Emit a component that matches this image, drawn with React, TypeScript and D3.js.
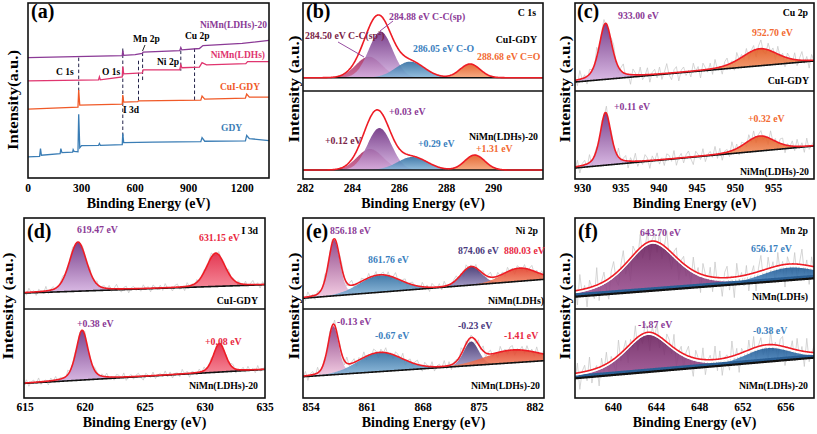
import React from "react";
import * as d3 from "d3";

const FONT = "'Liberation Serif','Times New Roman',serif";
const W = 817;
const H = 434;

// ---------------- (a) survey spectra ----------------
const surveyTicks = [0, 300, 600, 900, 1200];
const gdyEnergy = [0, 65, 70, 75, 180, 184, 190, 250, 253, 258, 280, 284, 290, 300, 395, 400, 405, 528, 531, 536, 700, 968, 975, 990, 1218, 1225, 1240, 1350];
const gdyCounts = [12.1, 12.4, 16.8, 13.0, 13.9, 16.8, 14.5, 14.8, 16.2, 15.2, 15.0, 36.4, 17.3, 18.5, 18.6, 19.7, 18.7, 19.1, 25.4, 20.2, 20.5, 20.8, 23.1, 21.0, 21.2, 24.3, 22.5, 21.4];
const cuiEnergy = [0, 280, 284, 290, 528, 531, 536, 615, 620, 625, 968, 975, 990, 1218, 1225, 1240, 1350];
const cuiCounts = [39.3, 40.5, 50.3, 41.6, 42.2, 47.4, 43.4, 43.6, 44.2, 44.1, 44.5, 46.8, 45.1, 45.7, 48.0, 46.2, 46.2];
const ldhEnergy = [0, 395, 400, 405, 528, 531, 536, 640, 645, 850, 856, 862, 960, 975, 1000, 1220, 1230, 1350];
const ldhCounts = [55.5, 56.1, 57.8, 56.1, 57.8, 63.6, 59.5, 60.1, 61.8, 61.8, 64.7, 63.0, 63.4, 65.9, 64.7, 65.3, 66.5, 66.5];
const ldh20Energy = [0, 528, 531, 536, 600, 640, 645, 850, 856, 862, 960, 980, 1200, 1350];
const ldh20Counts = [68.8, 69.9, 72.8, 70.1, 70.5, 71.2, 71.9, 72.8, 74.6, 73.2, 74.0, 75.7, 76.9, 78.6];
const markerEnergy = [284, 531, 619, 642, 856, 933];
const markerTop = [68.8, 74.0, 67.0, 71.7, 72.8, 74.0];
const markerBottom = [49.7, 23.7, 43.4, 55.5, 61.3, 43.9];

// ---------------- (b) C 1s ----------------
const c1sTicks = [282, 284, 286, 288, 290];
const c1sTopBase = [15.1, 15.1];
const c1sTopCenter = [284.7, 285.2, 286.45, 289.0];
const c1sTopHeight = [23.9, 52.3, 18.2, 15.6];
const c1sTopFwhm = [1.3, 1.2, 1.45, 1.0];
const c1sBotBase = [10.2, 10.2];
const c1sBotCenter = [284.75, 285.15, 286.55, 289.2];
const c1sBotHeight = [23.9, 47.7, 14.8, 17.0];
const c1sBotFwhm = [1.3, 1.2, 1.5, 1.0];
const c1sEta = [0, 0, 0, 0];

// ---------------- (c) Cu 2p ----------------
const cuTicks = [930, 935, 940, 945, 950, 955];
const cuTopBase = [10.2, 34.1];
const cuTopCenter = [933.0, 953.2];
const cuTopHeight = [63.6, 19.3];
const cuTopFwhm = [2.0, 5.5];
const cuBotBase = [12.5, 37.5];
const cuBotCenter = [933.0, 953.2];
const cuBotHeight = [59.8, 17.0];
const cuBotFwhm = [1.7, 4.5];
const cuEta = [0.5, 0.3];

// ---------------- (d) I 3d ----------------
const iTicks = [615, 620, 625, 630, 635];
const iTopBase = [17.5, 26.7];
const iTopCenter = [619.4, 630.9];
const iTopHeight = [54, 36.5];
const iTopFwhm = [1.7, 1.8];
const iTopEta = [0.3, 0.2];
const iBotBase = [16.4, 32.1];
const iBotCenter = [619.75, 631.2];
const iBotHeight = [56, 32];
const iBotFwhm = [1.2, 1.2];
const iBotEta = [0.45, 0.3];

// ---------------- (e) Ni 2p ----------------
const niTicks = [854, 861, 868, 875, 882];
const niTopBase = [11.8, 32.6];
const niTopCenter = [856.9, 862.6, 874.0, 880.0];
const niTopHeight = [61.2, 18.7, 20.1, 14.3];
const niTopFwhm = [1.7, 6, 3, 5];
const niBotBase = [23.9, 41.9];
const niBotCenter = [856.8, 862.6, 874.0, 879.2];
const niBotHeight = [54.5, 21.3, 27, 14.3];
const niBotFwhm = [1.6, 6.5, 2.2, 8];
const niEta = [0.3, 0, 0.1, 0];

// ---------------- (f) Mn 2p ----------------
const mnTicks = [640, 644, 648, 652, 656];
const mnTopBase = [13.5, 33.7];
const mnTopCenter = [643.6, 656.3];
const mnTopHeight = [51.6, 13.8];
const mnTopFwhm = [5.5, 6];
const mnBotBase = [22.1, 45.3];
const mnBotCenter = [643.2, 654.3];
const mnBotHeight = [41.6, 15.2];
const mnBotFwhm = [5, 5];
const mnEta = [0.5, 0.2];

// raw-signal residuals read around the fitted envelopes (relative units)
const residualTop = [0.4, -0.6, 0.9, -0.1, 0.3, -0.8, 0.5, 0.1, -0.5, 1.0, -0.7, 0.2, 0.6, -0.3, -0.9, 0.4, 0.8, -0.2, -0.6, 0.3, 0.9, -0.4, 0.0, -1.0, 0.6, 0.2, -0.3, 0.8, -0.5, -0.1, 0.7, -0.8, 0.2, 0.5, -0.4, 0.7, -0.6, 0.1, 1.0, -0.2, -0.7, 0.3, 0.6, -0.9, 0.2, 0.5, -0.4, 0.1, -0.6, 0.8, -0.1, 0.4, -0.8, 0.7, 0.2, -0.3, 0.6, -0.6, 0.9, -0.2, 0.1, -0.8, 0.4, 0.7, -0.5, 0.2, -0.9, 0.8, -0.1, 0.3, -0.4, 0.6, -0.7, 0.1, 0.5, -0.8, 0.3, 0.9, -0.3, -0.5, 0.7, -0.1, 0.4, -0.7, 0.8, -0.2, 0.3, -1.0, 0.5, 0.1, -0.4, 0.7, -0.6, 0.2, 0.9, -0.3, 0.4, -0.8, 0.6, -0.1];
const residualBot = [-0.3, 0.7, -0.8, 0.2, 0.5, -0.4, 0.9, -0.6, 0.1, 0.3, -0.9, 0.6, -0.2, 0.8, -0.5, 0.4, -0.1, -0.7, 1.0, -0.3, 0.2, 0.6, -0.8, 0.4, -0.2, 0.9, -0.6, 0.1, -0.4, 0.7, 0.3, -0.9, 0.5, -0.1, 0.8, -0.5, 0.2, -0.7, 0.6, 0.4, -0.3, 0.9, -0.8, 0.1, 0.5, -0.6, 0.3, 0.7, -0.2, -0.9, 0.6, 0.2, -0.4, 0.8, -0.7, 0.1, 0.4, -0.3, 0.9, -0.5, 0.6, -0.8, 0.2, 0.3, -0.6, 1.0, -0.2, 0.5, -0.9, 0.4, 0.1, -0.5, 0.7, -0.3, 0.8, -0.7, 0.2, 0.6, -0.4, 0.1, -0.8, 0.9, -0.2, 0.3, -0.6, 0.5, 0.7, -0.9, 0.2, -0.1, 0.6, -0.5, 0.8, -0.3, 0.4, -0.7, 0.9, -0.4, 0.1, 0.5];

// ---------------- styles ----------------
const GRAD: Record<string, [string, string]> = {
  purple: ["#6A2A7E", "#D6B2E2"],
  sp2: ["#A6265A", "#C45C8E"],
  blue: ["#2C6A9E", "#86B6DA"],
  orange: ["#E2561C", "#F5A072"],
  red: ["#E01E3C", "#F47A8C"],
  pink: ["#86357E", "#F3C8E0"],
  navy: ["#3A2C6A", "#A096C6"],
  redorange: ["#E23C26", "#F28A66"],
  fpurple: ["#6A1E5C", "#9A4E90"],
  fblue: ["#1C5894", "#5E9AD2"],
};
const C = {
  purple: "#8B3A96",
  blue: "#3A80BE",
  orange: "#F26A32",
  red: "#E8283F",
  navy: "#4A3A7E",
  dark: "#7A2448",
  pinkred: "#E0356F",
  cuiorange: "#F05A28",
  gdy: "#3A7DB5",
  env: "#EE1C25",
  noise: "#C4C4C4",
};

type Spec = {
  base: number[];
  c: number[];
  h: number[];
  w: number[];
  eta: number[];
  fills: string[];
  noise?: number[];
  amp?: number;
  gap?: boolean;
};

function pv(e: number, c: number, h: number, w: number, eta: number) {
  const d = (e - c) / w;
  const g = Math.exp(-4 * Math.LN2 * d * d);
  const l = 1 / (1 + 4 * d * d);
  return h * (eta * l + (1 - eta) * g);
}

function Sub({ id, x, y, spec, clipY }: { id: string; x: any; y: any; spec: Spec; clipY: [number, number] }) {
  const [d0, d1] = x.domain();
  const es = d3.range(401).map((i) => d0 + ((d1 - d0) * i) / 400);
  const baseAt = (e: number) => spec.base[0] + ((spec.base[1] - spec.base[0]) * (e - d0)) / (d1 - d0);
  const comp = (k: number, e: number) => pv(e, spec.c[k], spec.h[k], spec.w[k], spec.eta[k]);
  const total = (e: number) => spec.c.reduce((s, _, k) => s + comp(k, e), 0);
  const [x0, x1] = x.range();
  const envLine = d3
    .line<number>()
    .x((e) => x(e))
    .y((e) => y(baseAt(e) + total(e)))
    .curve(d3.curveMonotoneX);
  const baseLine = d3
    .line<number>()
    .x((e) => x(e))
    .y((e) => y(baseAt(e)));
  let noisePath: string | null = null;
  if (spec.noise) {
    const n = spec.noise.length;
    const pts = spec.noise.map((v, i) => {
      const e = d0 + ((d1 - d0) * i) / (n - 1);
      return [x(e), y(baseAt(e) + total(e) + (spec.amp || 0) * v)] as [number, number];
    });
    noisePath = d3.line()(pts);
  }
  return (
    <g>
      <clipPath id={"clip-" + id}>
        <rect x={x0} y={clipY[0]} width={x1 - x0} height={clipY[1] - clipY[0]} />
      </clipPath>
      <g clipPath={`url(#clip-${id})`}>
        {noisePath && <path d={noisePath} fill="none" stroke={C.noise} strokeWidth={0.7} />}
        {spec.c.map((_, k) => {
          const area = d3
            .area<number>()
            .x((e) => x(e))
            .y0((e) => y(baseAt(e)))
            .y1((e) => y(baseAt(e) + comp(k, e)))
            .curve(d3.curveMonotoneX);
          const pts = es.filter((e) => comp(k, e) > 0.15);
          return <path key={k} d={area(pts) || ""} fill={`url(#g-${spec.fills[k]})`} opacity={0.88} />;
        })}
        {spec.gap && (
          <path d={baseLine(es) || ""} fill="none" stroke="#2A5F95" strokeWidth={3} transform="translate(0,-2)" />
        )}
        <path d={baseLine(es) || ""} fill="none" stroke="#111" strokeWidth={spec.gap ? 2.2 : 1.6} />
        {spec.gap && (
          <path d={envLine(es) || ""} fill="none" stroke="#fff" strokeWidth={2.2} transform="translate(0,-1.2)" />
        )}
        <path
          d={envLine(es) || ""}
          fill="none"
          stroke={C.env}
          strokeWidth={1.6}
          transform={spec.gap ? "translate(0,-2.6)" : undefined}
        />
      </g>
    </g>
  );
}

type Box = { x0: number; x1: number; y0: number; yd: number; y1: number };

function YTitle({ x, y, text, len }: { x: number; y: number; text: string; len: number }) {
  return (
    <text
      transform={`translate(${x},${y}) rotate(-90)`}
      textAnchor="middle"
      fontSize={14.5}
      textLength={len}
      lengthAdjust="spacingAndGlyphs"
    >
      {text}
    </text>
  );
}

function XAxis({ x, ticks, base, box }: { x: any; ticks: number[]; base: number; box: Box }) {
  return (
    <g>
      {ticks.map((t) => (
        <text key={t} x={x(t)} y={base} textAnchor="middle" fontSize={11.5}>
          {t}
        </text>
      ))}
      <text x={(box.x0 + box.x1) / 2} y={base + 15.5} textAnchor="middle" fontSize={14}>
        Binding Energy (eV)
      </text>
    </g>
  );
}

function XpsPanel({
  id,
  box,
  domain,
  ticks,
  top,
  bottom,
  tickBase,
  yTitleX,
  children,
}: {
  id: string;
  box: Box;
  domain: [number, number];
  ticks: number[];
  top: Spec;
  bottom: Spec;
  tickBase: number;
  yTitleX: number;
  children?: React.ReactNode;
}) {
  const x = d3.scaleLinear().domain(domain).range([box.x0, box.x1]);
  const yTop = d3.scaleLinear().domain([0, 100]).range([box.yd, box.y0]);
  const yBot = d3.scaleLinear().domain([0, 100]).range([box.y1, box.yd]);
  return (
    <g>
      <Sub id={id + "t"} x={x} y={yTop} spec={top} clipY={[box.y0, box.yd]} />
      <Sub id={id + "b"} x={x} y={yBot} spec={bottom} clipY={[box.yd, box.y1]} />
      <rect x={box.x0} y={box.y0} width={box.x1 - box.x0} height={box.y1 - box.y0} fill="none" stroke="#111" strokeWidth={1.6} />
      <line x1={box.x0} x2={box.x1} y1={box.yd} y2={box.yd} stroke="#111" strokeWidth={1.6} />
      <XAxis x={x} ticks={ticks} base={tickBase} box={box} />
      <YTitle x={yTitleX} y={(box.y0 + box.y1) / 2 - 2} text="Intensity (a.u.)" len={107} />
      {children}
    </g>
  );
}

function SurveyPanel() {
  const box = { x0: 28, x1: 269, y0: 3, y1: 178 };
  const x = d3.scaleLinear().domain([0, 1350]).range([box.x0, box.x1]);
  const y = d3.scaleLinear().domain([0, 100]).range([box.y1, box.y0]);
  const series: [number[], number[], string][] = [
    [gdyEnergy, gdyCounts, C.gdy],
    [cuiEnergy, cuiCounts, C.cuiorange],
    [ldhEnergy, ldhCounts, C.pinkred],
    [ldh20Energy, ldh20Counts, C.purple],
  ];
  const line = d3.line<[number, number]>().x((d) => x(d[0])).y((d) => y(d[1]));
  return (
    <g>
      {markerEnergy.map((e, i) => (
        <line key={i} x1={x(e)} x2={x(e)} y1={y(markerTop[i])} y2={y(markerBottom[i])} stroke="#23234A" strokeWidth={1} strokeDasharray="3.5,2.5" />
      ))}
      {series.map(([es, cs, col], i) => (
        <path key={i} d={line(es.map((e, k) => [e, cs[k]] as [number, number])) || ""} fill="none" stroke={col} strokeWidth={1.3} />
      ))}
      <line x1={145} y1={45} x2={142.5} y2={51} stroke="#111" strokeWidth={0.9} />
      <rect x={box.x0} y={box.y0} width={box.x1 - box.x0} height={box.y1 - box.y0} fill="none" stroke="#111" strokeWidth={1.6} />
      {surveyTicks.map((t) => (
        <text key={t} x={x(t)} y={192} textAnchor="middle" fontSize={11.5}>
          {t}
        </text>
      ))}
      <text x={(box.x0 + box.x1) / 2} y={207.5} textAnchor="middle" fontSize={14}>
        Binding Energy (eV)
      </text>
      <YTitle x={18} y={100} text="Intensity(a.u.)" len={100} />
      <text x={31} y={18} fontSize={20}>(a)</text>
      <g fontSize={9.5}>
        <text x={267} y={28} textAnchor="end" fill={C.purple}>NiMn(LDHs)-20</text>
        <text x={265} y={58} textAnchor="end" fill={C.pinkred}>NiMn(LDHs)</text>
        <text x={260} y={90} textAnchor="end" fill={C.cuiorange}>CuI-GDY</text>
        <text x={221} y={131} fill={C.gdy}>GDY</text>
        <text x={56} y={75}>C 1s</text>
        <text x={102} y={75}>O 1s</text>
        <text x={133} y={42}>Mn 2p</text>
        <text x={157} y={65}>Ni 2p</text>
        <text x={185} y={39}>Cu 2p</text>
        <text x={123} y={113}>I 3d</text>
      </g>
    </g>
  );
}

export default function App() {
  const topRow = { y0: 3, yd: 91, y1: 179 };
  const botRow = { y0: 218, yd: 309, y1: 398 };
  const sp = (base: number[], c: number[], h: number[], w: number[], eta: number[], fills: string[], noise?: number[], amp?: number, gap?: boolean): Spec => ({
    base, c, h, w, eta, fills, noise, amp, gap,
  });
  return (
    <svg
      width={W}
      height={H}
      viewBox={`0 0 ${W} ${H}`}
      style={{ position: "absolute", left: 0, top: 0, background: "#fff" }}
      fontFamily={FONT}
      fontWeight="bold"
    >
      <defs>
        {Object.entries(GRAD).map(([k, [a, b]]) => (
          <linearGradient key={k} id={"g-" + k} x1="0" y1="0" x2="0" y2="1">
            <stop offset="0" stopColor={a} />
            <stop offset="1" stopColor={b} />
          </linearGradient>
        ))}
      </defs>
      <rect width={W} height={H} fill="#fff" />
      <SurveyPanel />

      {/* (b) C 1s */}
      <XpsPanel
        id="b"
        box={{ x0: 303, x1: 543, ...topRow }}
        domain={[281.9, 292.1]}
        ticks={c1sTicks}
        top={sp(c1sTopBase, c1sTopCenter, c1sTopHeight, c1sTopFwhm, c1sEta, ["sp2", "purple", "blue", "orange"])}
        bottom={sp(c1sBotBase, c1sBotCenter, c1sBotHeight, c1sBotFwhm, c1sEta, ["sp2", "purple", "blue", "orange"])}
        tickBase={192}
        yTitleX={299}
      >
        <text x={306} y={18} fontSize={20}>(b)</text>
        <g fontSize={9.8}>
          <text x={536} y={16} textAnchor="end">C 1s</text>
          <text x={537} y={43} textAnchor="end">CuI-GDY</text>
          <text x={389} y={20} fill={C.purple}>284.88 eV C-C(sp)</text>
          <text x={305} y={39} fill={C.dark}>
            284.50 eV C-C(sp<tspan fontSize={6.5} dy={-4}>2</tspan>
            <tspan dy={4}>)</tspan>
          </text>
          <text x={413} y={52} fill={C.blue}>286.05 eV C-O</text>
          <text x={477} y={60} fill={C.orange}>288.68 eV C=O</text>
          <text x={389} y={115} fill={C.purple}>+0.03 eV</text>
          <text x={325} y={144} fill={C.dark}>+0.12 eV</text>
          <text x={418} y={147} fill={C.blue}>+0.29 eV</text>
          <text x={538} y={140} textAnchor="end">NiMn(LDHs)-20</text>
          <text x={476} y={152} fill={C.orange}>+1.31 eV</text>
        </g>
        <line x1={338} y1={42} x2={364} y2={57} stroke={C.purple} strokeWidth={0.9} />
        <line x1={393} y1={21} x2={380} y2={31} stroke={C.purple} strokeWidth={0.9} />
      </XpsPanel>

      {/* (c) Cu 2p */}
      <XpsPanel
        id="c"
        box={{ x0: 575, x1: 814, ...topRow }}
        domain={[929, 960.3]}
        ticks={cuTicks}
        top={sp(cuTopBase, cuTopCenter, cuTopHeight, cuTopFwhm, cuEta, ["purple", "orange"], residualTop, 11)}
        bottom={sp(cuBotBase, cuBotCenter, cuBotHeight, cuBotFwhm, cuEta, ["purple", "orange"], residualBot, 10)}
        tickBase={192}
        yTitleX={570}
      >
        <text x={577} y={18} fontSize={20}>(c)</text>
        <g fontSize={9.8}>
          <text x={808} y={16} textAnchor="end">Cu 2p</text>
          <text x={618} y={19} fill={C.purple}>933.00 eV</text>
          <text x={752} y={36} fill={C.orange}>952.70 eV</text>
          <text x={809} y={84} textAnchor="end">CuI-GDY</text>
          <text x={614} y={110} fill={C.purple}>+0.11 eV</text>
          <text x={748} y={122} fill={C.orange}>+0.32 eV</text>
          <text x={809} y={175} textAnchor="end">NiMn(LDHs)-20</text>
        </g>
      </XpsPanel>

      {/* (d) I 3d */}
      <XpsPanel
        id="d"
        box={{ x0: 24, x1: 265, ...botRow }}
        domain={[614.9, 635]}
        ticks={iTicks}
        top={sp(iTopBase, iTopCenter, iTopHeight, iTopFwhm, iTopEta, ["purple", "red"], residualTop, 5)}
        bottom={sp(iBotBase, iBotCenter, iBotHeight, iBotFwhm, iBotEta, ["purple", "red"], residualBot, 5)}
        tickBase={411}
        yTitleX={13}
      >
        <text x={27} y={238} fontSize={20}>(d)</text>
        <g fontSize={9.8}>
          <text x={77} y={233} fill={C.purple}>619.47 eV</text>
          <text x={199} y={241} fill={C.red}>631.15 eV</text>
          <text x={258} y={234} textAnchor="end">I 3d</text>
          <text x={258} y={304} textAnchor="end">CuI-GDY</text>
          <text x={77} y={327} fill={C.purple}>+0.38 eV</text>
          <text x={205} y={345} fill={C.red}>+0.08 eV</text>
          <text x={258} y={389} textAnchor="end">NiMn(LDHs)-20</text>
        </g>
      </XpsPanel>

      {/* (e) Ni 2p */}
      <XpsPanel
        id="e"
        box={{ x0: 303, x1: 544, ...botRow }}
        domain={[853, 883.1]}
        ticks={niTicks}
        top={sp(niTopBase, niTopCenter, niTopHeight, niTopFwhm, niEta, ["pink", "blue", "navy", "redorange"], residualTop, 6)}
        bottom={sp(niBotBase, niBotCenter, niBotHeight, niBotFwhm, niEta, ["pink", "blue", "navy", "redorange"], residualBot, 7)}
        tickBase={411}
        yTitleX={299}
      >
        <text x={306} y={238} fontSize={20}>(e)</text>
        <g fontSize={9.8}>
          <text x={330} y={234} fill={C.purple}>856.18 eV</text>
          <text x={538} y={234} textAnchor="end">Ni 2p</text>
          <text x={368} y={263} fill={C.blue}>861.76 eV</text>
          <text x={458} y={254} fill={C.navy}>874.06 eV</text>
          <text x={504} y={254} fill={C.red}>880.03 eV</text>
          <text x={544} y={304} textAnchor="end">NiMn(LDHs)</text>
          <text x={337} y={325} fill={C.purple}>-0.13 eV</text>
          <text x={375} y={339} fill={C.blue}>-0.67 eV</text>
          <text x={458} y={329} fill={C.navy}>-0.23 eV</text>
          <text x={504} y={339} fill={C.red}>-1.41 eV</text>
          <text x={540} y={389} textAnchor="end">NiMn(LDHs)-20</text>
        </g>
      </XpsPanel>

      {/* (f) Mn 2p */}
      <XpsPanel
        id="f"
        box={{ x0: 575, x1: 814, ...botRow }}
        domain={[636.45, 658.6]}
        ticks={mnTicks}
        top={sp(mnTopBase, mnTopCenter, mnTopHeight, mnTopFwhm, mnEta, ["fpurple", "fblue"], residualTop, 22, true)}
        bottom={sp(mnBotBase, mnBotCenter, mnBotHeight, mnBotFwhm, mnEta, ["fpurple", "fblue"], residualBot, 20, true)}
        tickBase={411}
        yTitleX={570}
      >
        <text x={578} y={238} fontSize={20}>(f)</text>
        <g fontSize={9.8}>
          <text x={640} y={236} fill={C.purple}>643.70 eV</text>
          <text x={751} y={252} fill={C.blue}>656.17 eV</text>
          <text x={808} y={234} textAnchor="end">Mn 2p</text>
          <text x={808} y={300} textAnchor="end">NiMn(LDHs)</text>
          <text x={638} y={328} fill={C.purple}>-1.87 eV</text>
          <text x={753} y={334} fill={C.blue}>-0.38 eV</text>
          <text x={808} y={389} textAnchor="end">NiMn(LDHs)-20</text>
        </g>
      </XpsPanel>
    </svg>
  );
}
